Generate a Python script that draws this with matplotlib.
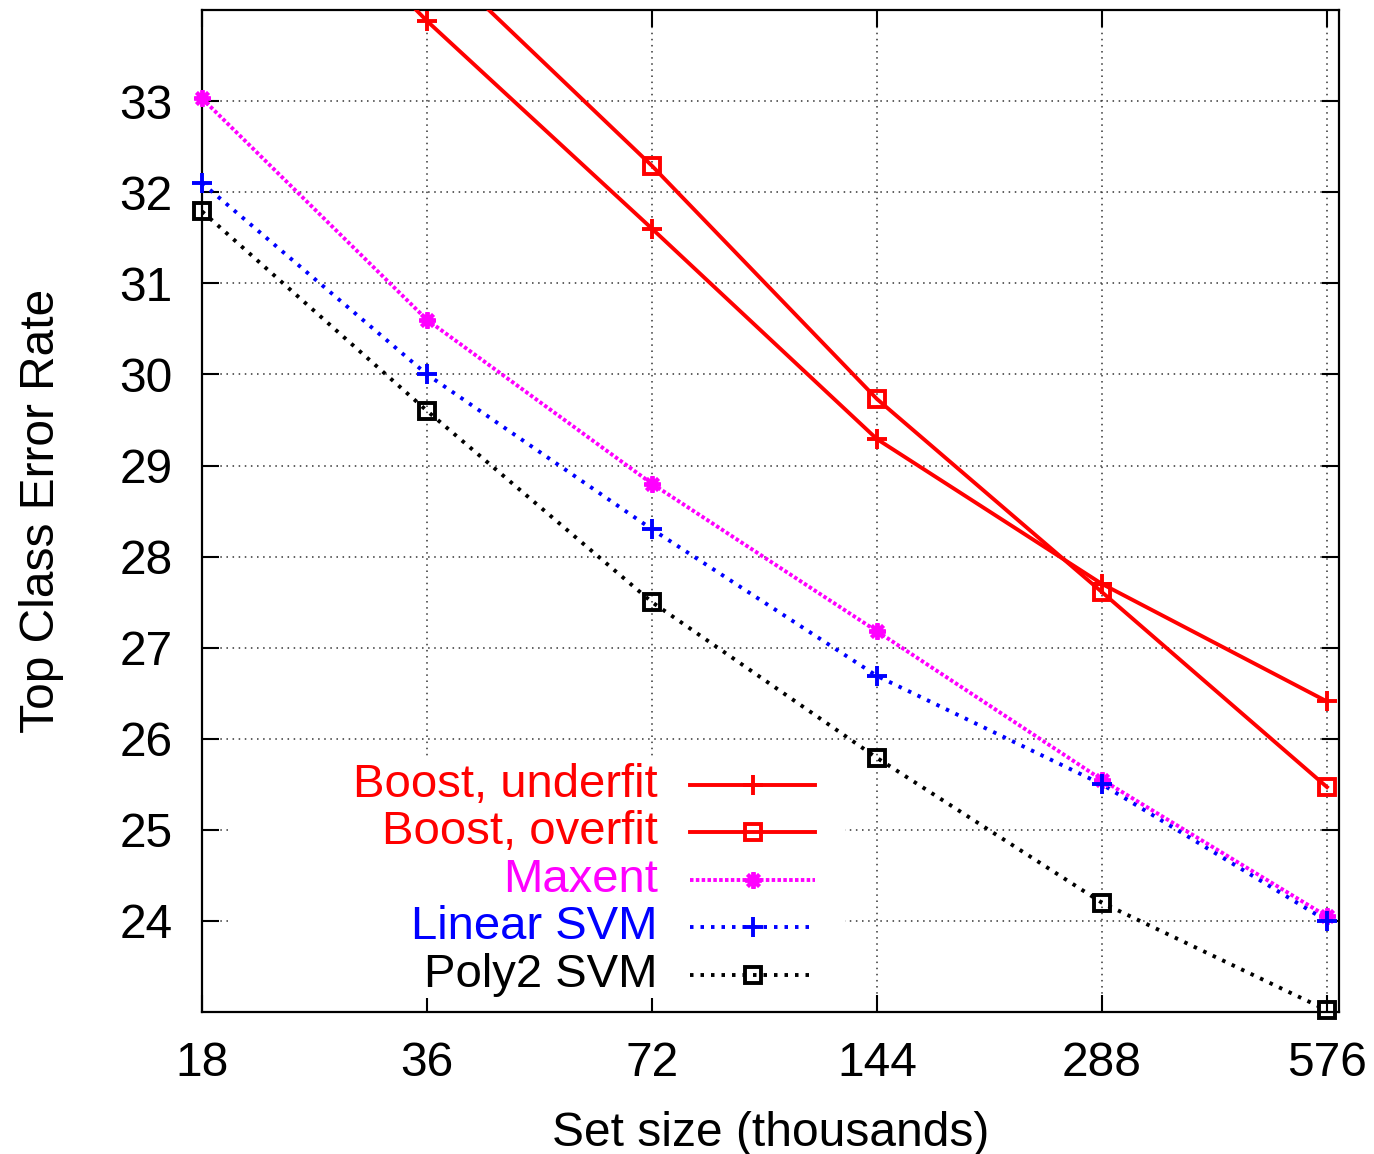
import matplotlib.pyplot as plt
from matplotlib.lines import Line2D
from matplotlib.patches import Rectangle

plt.rcParams['font.family'] = ['Liberation Sans', 'DejaVu Sans']

# --- data (error rate in %, by training set size in thousands)
sizes = [18, 36, 72, 144, 288, 576]
boost_under = [36.4, 33.88, 31.6, 29.29, 27.70, 26.41]
boost_over = [37.2, 34.65, 32.29, 29.73, 27.61, 25.47]
maxent = [33.03, 30.60, 28.80, 27.18, 25.55, 24.05]
linear_svm = [32.10, 30.00, 28.30, 26.69, 25.50, 24.00]
poly2_svm = [31.79, 29.60, 27.50, 25.79, 24.20, 23.02]

x_ticks = [18, 36, 72, 144, 288, 576]
y_ticks = [24, 25, 26, 27, 28, 29, 30, 31, 32, 33]
ymin, ymax = 23, 34

series = [
    ('Boost, underfit', boost_under, 'red', '-', '+', 15, 'none'),
    ('Boost, overfit', boost_over, 'red', '-', 's', 11, 'none'),
    ('Maxent', maxent, 'magenta', (0, (0.9, 0.6)), (8, 2, 0), 12, 'magenta'),
    ('Linear SVM', linear_svm, 'blue', (0, (0.9, 1.8)), '+', 15, 'blue'),
    ('Poly2 SVM', poly2_svm, 'black', (0, (0.9, 1.8)), 's', 11, 'none'),
]

# ---
fig = plt.figure(figsize=(13.74, 11.54), dpi=100)
ax = fig.add_axes([0.147, 0.123, 0.8275, 0.8683])
ax.set_xscale('log', base=2)
ax.set_xlim(18, 597.7)
ax.set_ylim(ymin, ymax)

for label, vals, col, ls, mk, ms, mfc in series:
    ax.plot(sizes, vals, color=col, linestyle=ls, lw=2.8, zorder=3)
    px = [s for s, v in zip(sizes, vals) if v <= ymax]
    py = [v for v in vals if v <= ymax]
    ax.plot(px, py, linestyle='none', marker=mk, ms=ms, mew=2.8,
            mec=col, mfc=mfc, color=col, clip_on=False, zorder=4)

ax.set_xticks(x_ticks)
ax.set_xticklabels([str(t) for t in x_ticks])
ax.set_yticks(y_ticks)
ax.minorticks_off()
ax.tick_params(direction='in', length=12, width=1.5, labelsize=34.5,
               top=True, right=True)
ax.tick_params(axis='y', pad=21)
ax.tick_params(axis='x', pad=21)
ax.grid(True, color='0.2', linestyle=(0, (1, 3)), lw=1.1, zorder=1)
for sp in ax.spines.values():
    sp.set_linewidth(1.6)

ax.set_xlabel('Set size (thousands)', fontsize=34.5, labelpad=18)
ax.set_ylabel('Top Class Error Rate', fontsize=34.5, labelpad=40)

# --- key: opaque box, labels right-aligned, line samples to the right
ax.add_patch(Rectangle((0.023, 0.014), 0.5425, 0.2395, transform=ax.transAxes,
                       facecolor='white', edgecolor='none', zorder=2))
row_y = [0.2265, 0.1796, 0.1317, 0.0848, 0.0369]
for (label, vals, col, ls, mk, ms, mfc), yy in zip(series, row_y):
    ax.text(0.401, yy, label, color=col, fontsize=34, ha='right', va='center',
            transform=ax.transAxes, zorder=5)
    ax.add_line(Line2D([0.429, 0.539], [yy, yy], color=col, linestyle=ls,
                       lw=2.8, transform=ax.transAxes, zorder=5))
    ax.add_line(Line2D([0.4846], [yy], linestyle='none', marker=mk, ms=ms,
                       mew=2.8, mec=col, mfc=mfc, transform=ax.transAxes,
                       zorder=6))

plt.savefig('out.png', dpi=100)
